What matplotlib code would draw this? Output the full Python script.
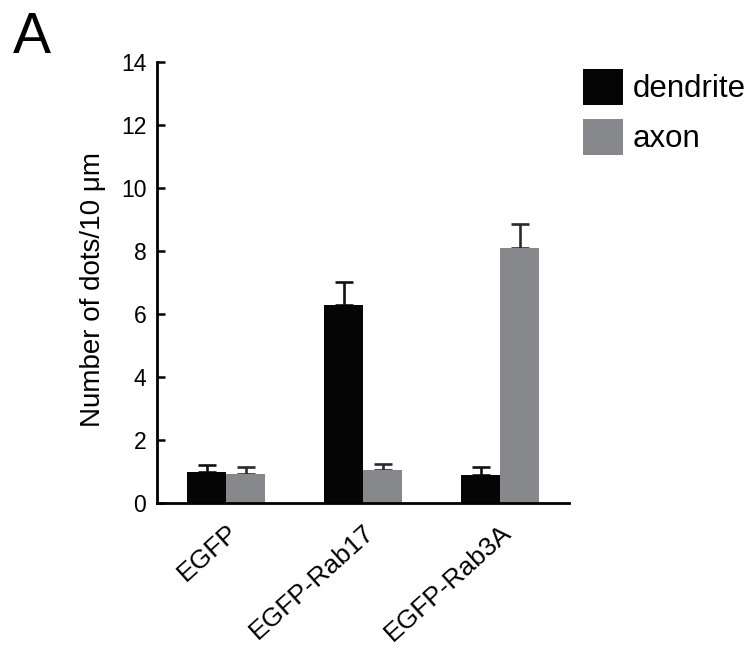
import matplotlib
matplotlib.use("Agg")
import matplotlib.pyplot as plt
import matplotlib.transforms as mtransforms
import numpy as np

plt.rcParams['font.family'] = ['Liberation Sans', 'DejaVu Sans']

# values
groups = ["EGFP", "EGFP-Rab17", "EGFP-Rab3A"]
dendrite = [0.98, 6.28, 0.89]
dendrite_err = [0.22, 0.72, 0.24]
axon = [0.91, 1.04, 8.10]
axon_err = [0.24, 0.19, 0.74]
yticks = [0, 2, 4, 6, 8, 10, 12, 14]

fig = plt.figure(figsize=(7.56, 6.54), dpi=100)
ax = fig.add_axes([0.2083, 0.2309, 0.5443, 0.6748])

x = np.arange(len(groups))
w = 0.285
black = "#050505"
grey = "#87888c"

ax.bar(x - w / 2, dendrite, w, color=black, label="dendrite", zorder=2)
ax.bar(x + w / 2, axon, w, color=grey, label="axon", zorder=2)

zeros = np.zeros(len(groups))
ax.errorbar(x - w / 2, dendrite, yerr=[zeros, dendrite_err], fmt="none",
            ecolor="#111111", elinewidth=1.9, capsize=6.2, capthick=1.9, zorder=1)
ax.errorbar(x + w / 2, axon, yerr=[zeros, axon_err], fmt="none",
            ecolor="#2a2a2a", elinewidth=1.9, capsize=6.2, capthick=1.9, zorder=1)

ax.set_xlim(-0.5, 2.5)
ax.set_ylim(0, 14)
ax.set_yticks(yticks)
ax.set_xticks(x)
ax.set_xticklabels(groups, rotation=42, ha="right", va="top",
                   rotation_mode="anchor", fontsize=19)
shift = mtransforms.ScaledTranslation(0.09, 0, fig.dpi_scale_trans)
for lbl in ax.get_xticklabels():
    lbl.set_transform(lbl.get_transform() + shift)
ax.tick_params(axis="x", length=0, pad=12)
ax.tick_params(axis="y", direction="in", length=5.5, width=1.8,
               labelsize=16.5, pad=8)
for side in ["top", "right"]:
    ax.spines[side].set_visible(False)
for side in ["left", "bottom"]:
    ax.spines[side].set_linewidth(2.0)

ax.set_ylabel("Number of dots/10 μm", fontsize=20, labelpad=12)
ax.yaxis.set_label_coords(-0.125, 0.483)

ax.legend(loc="upper left", bbox_to_anchor=(0.7716, 0.895),
          bbox_transform=fig.transFigure, frameon=False, fontsize=22.5,
          handlelength=1.28, handleheight=1.4, handletextpad=0.3,
          labelspacing=0.45, borderpad=0, borderaxespad=0)

fig.text(0.017, 1 - 53 / 654, "A", fontsize=41, va="baseline", ha="left")

fig.savefig("out.png", dpi=100)
